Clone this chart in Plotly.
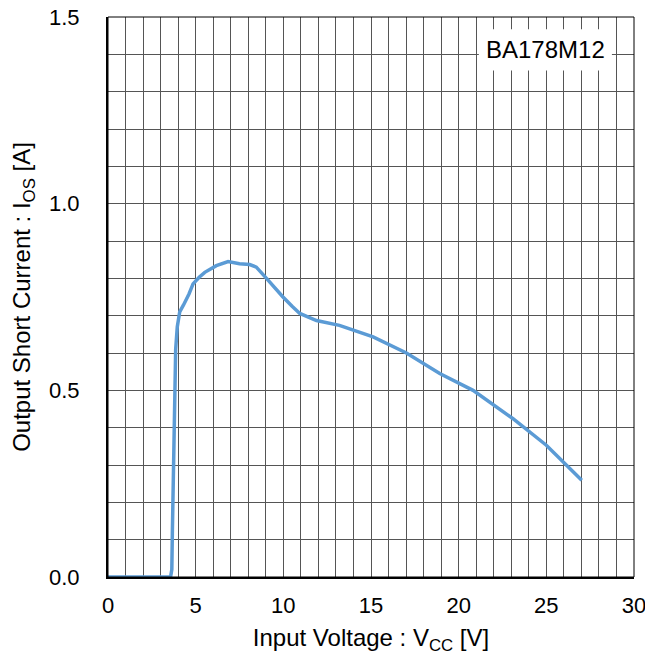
import plotly.graph_objects as go

vcc = [0, 1, 2, 3, 3.5, 3.58, 3.64, 3.67, 3.75, 3.86, 3.95, 4.09, 4.3, 4.47, 4.62, 4.85, 5.2, 5.52, 6.18, 6.85, 7.5, 8.08, 8.46, 9.04, 9.5, 9.98, 10.5, 10.94, 11.89, 13.2, 15.12, 17.02, 18.92, 20.82, 23.1, 25.0, 27.02]
ios = [0, 0, 0, 0, 0, 0.003, 0.02, 0.117, 0.385, 0.61, 0.67, 0.71, 0.728, 0.742, 0.758, 0.785, 0.803, 0.816, 0.834, 0.845, 0.839, 0.837, 0.83, 0.80, 0.775, 0.75, 0.725, 0.706, 0.687, 0.674, 0.643, 0.600, 0.545, 0.50, 0.424, 0.353, 0.259]

x_ticks = [0, 5, 10, 15, 20, 25, 30]
y_ticks = [0.0, 0.5, 1.0, 1.5]
label = "BA178M12"

tick_font = dict(family="Liberation Sans, Arial", size=22, color="black")
title_font = dict(family="Liberation Sans, Arial", size=24, color="black")

fig = go.Figure()
fig.add_trace(go.Scatter(x=vcc, y=ios, mode="lines",
                         line=dict(color="#5B9BD5", width=3.5), showlegend=False))

grid = "#555555"
fig.update_xaxes(range=[0, 30], tickvals=x_ticks, showgrid=True, gridcolor=grid, gridwidth=1,
                 minor=dict(dtick=1, showgrid=True, gridcolor=grid, gridwidth=1),
                 showline=True, linecolor="black", linewidth=2, zeroline=False,
                 ticks="", tickfont=tick_font, ticklabelstandoff=8, ticklabeloverflow="allow",
                 automargin=False,
                 title=dict(text="Input Voltage : V<sub>CC</sub> [V]", font=title_font, standoff=12))
fig.update_yaxes(range=[0, 1.5], tickvals=y_ticks, tickformat=".1f", showgrid=True, gridcolor=grid, gridwidth=1,
                 minor=dict(dtick=0.1, showgrid=True, gridcolor=grid, gridwidth=1),
                 showline=True, linecolor="black", linewidth=2, zeroline=False,
                 ticks="", tickfont=tick_font, ticklabelstandoff=22, ticklabeloverflow="allow",
                 automargin=False,
                 title=dict(text="Output Short Current : I<sub>OS</sub> [A]", font=title_font, standoff=12))

fig.add_shape(type="rect", xref="paper", yref="paper", x0=0, y0=0, x1=1, y1=1,
              line=dict(color="black", width=1), layer="above")
fig.add_shape(type="rect", xref="x", yref="y", x0=21.15, x1=28.74, y0=1.357, y1=1.467,
              line=dict(width=0), fillcolor="white", layer="above")

fig.add_annotation(x=24.94, y=1.412, xref="x", yref="y", text=label, showarrow=False,
                   xanchor="center", yanchor="middle", font=title_font)

fig.update_layout(width=645, height=668, margin=dict(l=108, r=11, t=17, b=91, autoexpand=False),
                  plot_bgcolor="white", paper_bgcolor="white", font=tick_font)

fig.write_html("out.html", config={"displayModeBar": False},
               post_script="document.body.style.margin='0';")
